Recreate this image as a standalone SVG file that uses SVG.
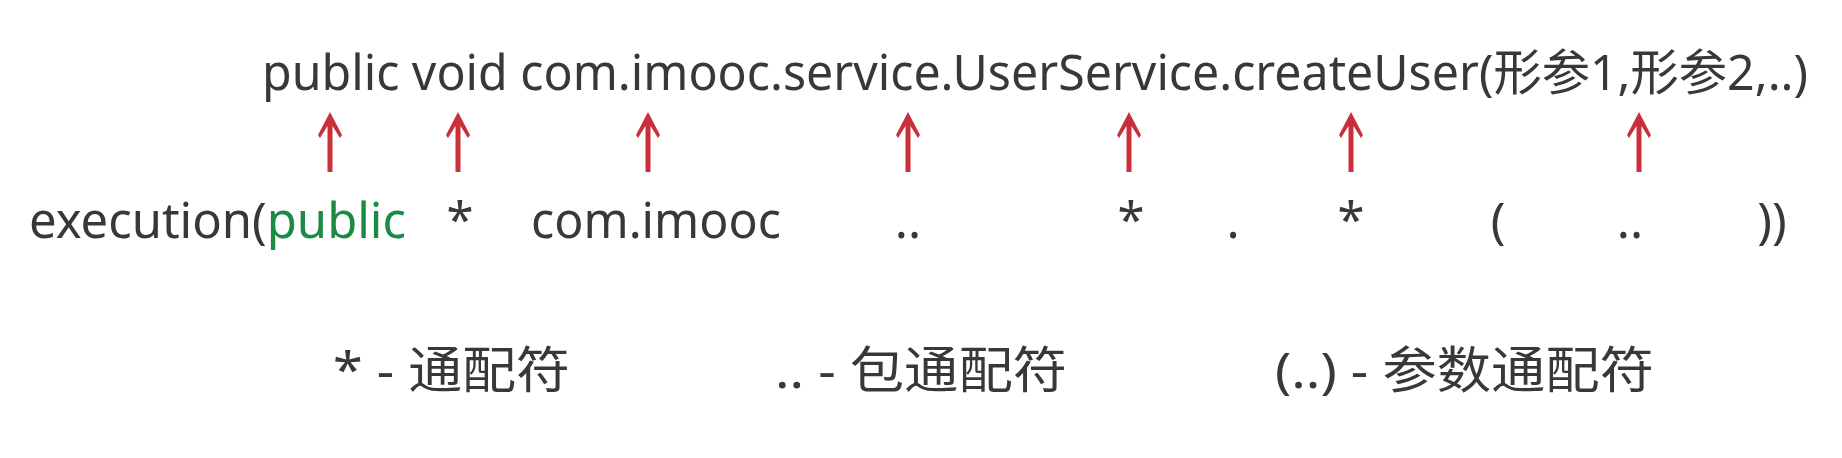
<svg xmlns="http://www.w3.org/2000/svg" width="1842" height="458" viewBox="0 0 1842 458">
  <style>
    .t { font-family: "Noto Sans", "Noto Sans CJK SC", sans-serif; font-size: 49px; fill: #383838; }
    .b { font-size: 50px; }
    .g { fill: #1a8a45; }
    .m { text-anchor: middle; }
    .arrow { fill: #c9303c; }
  </style>
  <defs>
    <path id="up" class="arrow" d="M0,0 L12,23 L10,26 L2.5,14 L2.5,60 L-2.5,60 L-2.5,14 L-10,26 L-12,23 Z"/>
  </defs>
  <rect width="1842" height="458" fill="#ffffff"/>

  <g id="signature">
    <text class="t" x="262" y="90" textLength="1546" lengthAdjust="spacingAndGlyphs">public void com.imooc.service.UserService.createUser(形参1,形参2,..)</text>
  </g>

  <g id="connectors">
    <use href="#up" x="330" y="112"/>
    <use href="#up" x="458" y="112"/>
    <use href="#up" x="648" y="112"/>
    <use href="#up" x="908" y="112"/>
    <use href="#up" x="1129" y="112"/>
    <use href="#up" x="1351" y="112"/>
    <use href="#up" x="1639" y="112"/>
  </g>

  <g id="expression">
    <text class="t" x="29" y="238" textLength="377" lengthAdjust="spacingAndGlyphs">execution(<tspan class="g">public</tspan></text>
    <text class="t m" x="460" y="238">*</text>
    <text class="t" x="531" y="238" textLength="250" lengthAdjust="spacingAndGlyphs">com.imooc</text>
    <text class="t m" x="908" y="238">..</text>
    <text class="t m" x="1131" y="238">*</text>
    <text class="t m" x="1233" y="238">.</text>
    <text class="t m" x="1351" y="238">*</text>
    <text class="t m" x="1498" y="238">(</text>
    <text class="t m" x="1630" y="238">..</text>
    <text class="t m" x="1772" y="238">))</text>
  </g>

  <g id="legend-star">
    <text class="t b" x="333" y="388" textLength="237" lengthAdjust="spacingAndGlyphs">* - 通配符</text>
  </g>
  <g id="legend-dotdot">
    <text class="t b" x="775" y="388" textLength="292" lengthAdjust="spacingAndGlyphs">.. - 包通配符</text>
  </g>
  <g id="legend-args">
    <text class="t b" x="1275" y="388" textLength="379" lengthAdjust="spacingAndGlyphs">(..) - 参数通配符</text>
  </g>
</svg>
